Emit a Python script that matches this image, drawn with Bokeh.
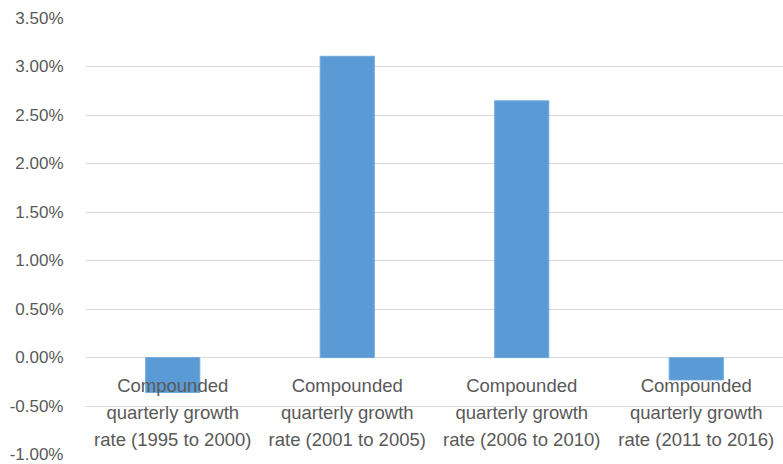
from bokeh.plotting import figure
from bokeh.models import FactorRange, Range1d, NumeralTickFormatter, FixedTicker, ColumnDataSource
from bokeh.core.properties import value
from bokeh.embed import file_html
from bokeh.resources import INLINE

periods = ["1995 to 2000", "2001 to 2005", "2006 to 2010", "2011 to 2016"]
labels = [
    "Compounded\nquarterly growth\nrate (1995 to 2000)",
    "Compounded\nquarterly growth\nrate (2001 to 2005)",
    "Compounded\nquarterly growth\nrate (2006 to 2010)",
    "Compounded\nquarterly growth\nrate (2011 to 2016)",
]
growth = [-0.0036, 0.0311, 0.0265, -0.0023]
y_ticks = [-0.01, -0.005, 0.0, 0.005, 0.01, 0.015, 0.02, 0.025, 0.03, 0.035]

FONT = "Liberation Sans"
TXT = "#595959"

src = ColumnDataSource(dict(x=periods, top=growth, label=labels, zero=[0.0] * len(periods)))

p = figure(
    width=783, height=464,
    x_range=FactorRange(factors=periods, range_padding=0),
    y_range=Range1d(-0.01, 0.035),
    output_backend="svg", toolbar_location=None,
    min_border_left=85, min_border_right=0, min_border_top=18, min_border_bottom=10,
)
p.outline_line_color = None
p.background_fill_color = "white"
p.border_fill_color = "white"

p.vbar(x="x", top="top", bottom=0, width=0.31, source=src,
       fill_color="#5b9bd5", line_color="#6ea8dc")

p.text(x="x", y="zero", text="label", source=src,
       text_font=value(FONT), text_font_size="18.5px", text_color=TXT,
       text_align="center", text_baseline="top", text_line_height=1.3,
       y_offset=17)

p.xaxis.visible = False
p.xgrid.grid_line_color = None
p.ygrid.grid_line_color = "#d9d9d9"
p.ygrid.grid_line_width = 1
p.ygrid.ticker = FixedTicker(ticks=y_ticks)

ax = p.yaxis[0]
ax.ticker = FixedTicker(ticks=y_ticks)
ax.formatter = NumeralTickFormatter(format="0.00%")
ax.axis_line_color = None
ax.major_tick_line_color = None
ax.minor_tick_line_color = None
ax.major_label_text_font = FONT
ax.major_label_text_font_size = "17px"
ax.major_label_text_color = TXT
ax.major_label_standoff = 16

open("out.html", "w").write(file_html(p, INLINE))
